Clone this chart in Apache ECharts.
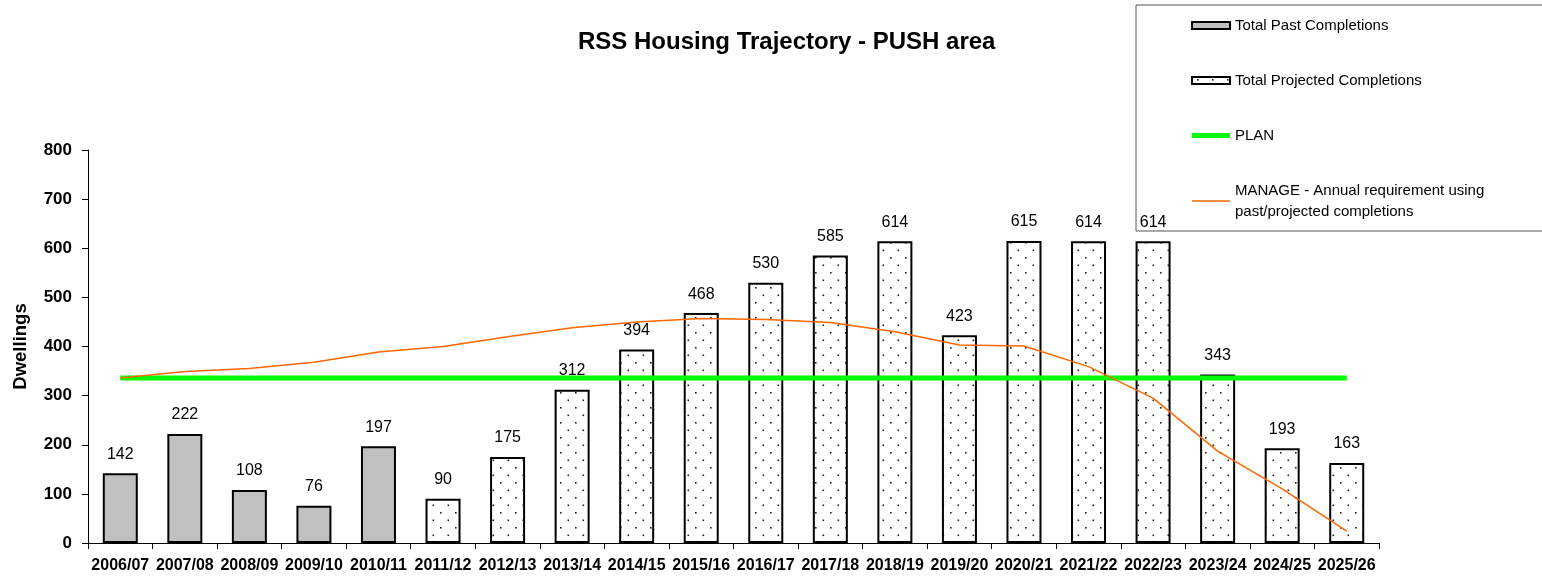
<!DOCTYPE html>
<html lang="en">
  <head>
    <meta charset="UTF-8" />
    <title>RSS Housing Trajectory - PUSH area</title>
    <style>
      html, body { margin: 0; padding: 0; background: #fff; }
      #chart { width: 1542px; height: 578px; }
    </style>
  </head>
  <body>
    <div id="chart"></div>

    <script src="https://cdn.jsdelivr.net/npm/echarts@6/dist/echarts.min.js"></script>
    <script>
      const years = ['2006/07', '2007/08', '2008/09', '2009/10', '2010/11', '2011/12', '2012/13',
        '2013/14', '2014/15', '2015/16', '2016/17', '2017/18', '2018/19', '2019/20', '2020/21',
        '2021/22', '2022/23', '2023/24', '2024/25', '2025/26'];
      const pastCompletions = [142, 222, 108, 76, 197, '-', '-', '-', '-', '-', '-', '-', '-', '-',
        '-', '-', '-', '-', '-', '-'];
      const projectedCompletions = ['-', '-', '-', '-', '-', 90, 175, 312, 394, 468, 530, 585, 614,
        423, 615, 614, 614, 343, 193, 163];
      const plan = [336, 336, 336, 336, 336, 336, 336, 336, 336, 336, 336, 336, 336, 336, 336, 336,
        336, 336, 336, 336];
      const manage = [336, 349, 355, 368, 389, 400, 420, 438, 450, 457, 455, 449, 430, 403, 401, 359,
        295, 187, 110, 24];
      const yTicks = [0, 100, 200, 300, 400, 500, 600, 700, 800];

      const FONT = '"Liberation Sans", Arial, sans-serif';
      const MANAGE_NAME = 'MANAGE - Annual requirement using past/projected completions';

      // dotted fill for projected bars
      const tile = document.createElement('canvas');
      tile.width = 15;
      tile.height = 15;
      const ctx = tile.getContext('2d');
      ctx.fillStyle = '#fff';
      ctx.fillRect(0, 0, 15, 15);
      ctx.fillStyle = '#222';
      ctx.fillRect(5, 2, 1.6, 1.6);
      ctx.fillRect(12.5, 9.5, 1.6, 1.6);

      const chart = echarts.init(document.getElementById('chart'), null, { renderer: 'canvas' });

      const barLabel = {
        show: true,
        position: 'top',
        distance: 11,
        color: '#000',
        fontSize: 16,
        fontFamily: FONT,
      };

      const option = {
        animation: false,
        backgroundColor: '#fff',
        textStyle: { fontFamily: FONT },
        title: {
          text: 'RSS Housing Trajectory - PUSH area',
          left: 578,
          top: 30,
          padding: 0,
          textStyle: { fontSize: 24, fontWeight: 'bold', color: '#000', fontFamily: FONT },
        },
        legend: {
          orient: 'vertical',
          left: 1136,
          top: 5,
          padding: [10, 60, 9, 55],
          itemGap: 34,
          itemWidth: 38,
          itemHeight: 7,
          borderColor: '#555',
          borderWidth: 1,
          borderRadius: 0,
          textStyle: { fontSize: 15, color: '#000', fontFamily: FONT, lineHeight: 21 },
          formatter: function (name) {
            if (name === MANAGE_NAME) {
              return 'MANAGE - Annual requirement using\npast/projected completions';
            }
            return name;
          },
          data: [
            { name: 'Total Past Completions', icon: 'rect' },
            { name: 'Total Projected Completions', icon: 'rect' },
            {
              name: 'PLAN',
              icon: 'path://M0 0H38V5H0Z',
              itemStyle: { color: '#00ff00', borderWidth: 0 },
            },
            {
              name: MANAGE_NAME,
              icon: 'path://M0 0H76V3H0Z',
              itemStyle: { color: '#ff6600', borderWidth: 0 },
            },
          ],
        },
        grid: { left: 88, right: 163, top: 150, bottom: 35 },
        xAxis: {
          type: 'category',
          data: years,
          axisLine: { lineStyle: { color: '#000', width: 1 } },
          axisTick: { show: true, length: 6, lineStyle: { color: '#000' } },
          axisLabel: {
            color: '#000',
            fontSize: 16,
            fontWeight: 'bold',
            fontFamily: FONT,
            margin: 15,
            interval: 0,
          },
        },
        yAxis: {
          type: 'value',
          min: yTicks[0],
          max: yTicks[yTicks.length - 1],
          interval: 100,
          name: 'Dwellings',
          nameLocation: 'middle',
          nameGap: 58,
          nameTextStyle: { fontSize: 18.5, fontWeight: 'bold', color: '#000', fontFamily: FONT },
          axisLine: { show: true, lineStyle: { color: '#000', width: 1 } },
          axisTick: { show: true, length: 6, lineStyle: { color: '#000' } },
          splitLine: { show: false },
          axisLabel: {
            color: '#000',
            fontSize: 17,
            fontWeight: 'bold',
            fontFamily: FONT,
            margin: 16,
          },
        },
        series: [
          {
            name: 'Total Past Completions',
            type: 'bar',
            data: pastCompletions,
            barWidth: 35,
            barGap: '-100%',
            itemStyle: { color: '#c0c0c0', borderColor: '#000', borderWidth: 2 },
            label: barLabel,
          },
          {
            name: 'Total Projected Completions',
            type: 'bar',
            data: projectedCompletions,
            barWidth: 35,
            barGap: '-100%',
            itemStyle: {
              color: { image: tile, repeat: 'repeat' },
              borderColor: '#000',
              borderWidth: 2,
            },
            label: barLabel,
          },
          {
            name: 'PLAN',
            type: 'line',
            data: plan,
            symbol: 'none',
            z: 5,
            lineStyle: { color: '#00ff00', width: 5 },
            itemStyle: { color: '#00ff00' },
          },
          {
            name: MANAGE_NAME,
            type: 'line',
            data: manage,
            symbol: 'none',
            z: 6,
            lineStyle: { color: '#ff6600', width: 1.5 },
            itemStyle: { color: '#ff6600' },
          },
        ],
      };

      chart.setOption(option);
    </script>
  </body>
</html>
